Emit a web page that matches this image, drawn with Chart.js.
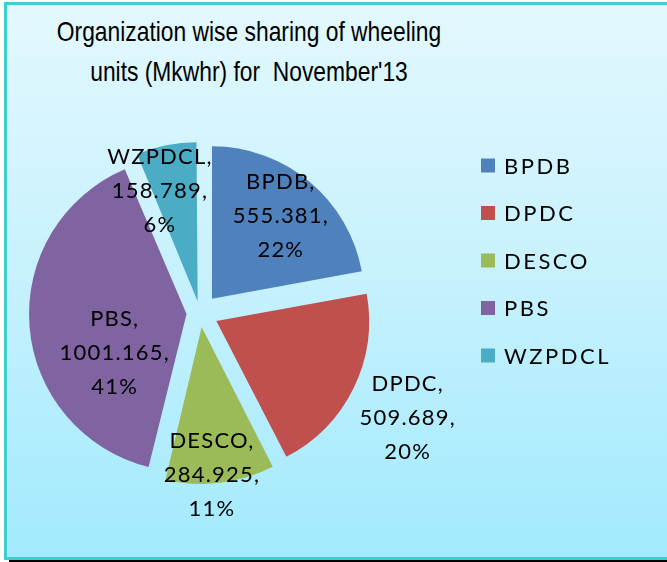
<!doctype html>
<html lang="en">
<head>
<meta charset="utf-8">
<title>Wheeling units November'13</title>
<script src="https://cdn.jsdelivr.net/npm/chart.js@4.4.1/dist/chart.umd.min.js"></script>
<style>
    body { margin: 0; }
    #wrap { position: relative; width: 667px; height: 562px; overflow: hidden; background: #fff; }
    #frame {
        position: absolute; left: 4px; top: 2px; width: 700px; height: 552px;
        border: 3px solid #40cdd0;
        background: linear-gradient(#e3f8fe, #c6f1fd 50%, #a2eafd);
        box-shadow: 5px 2px 0 #000;
    }
    #title {
        position: absolute; left: 0; top: 12px; width: 498px;
        text-align: center; font: 28px/40px "Liberation Sans", Arial, sans-serif;
        color: #000;
        transform: scaleX(0.815); transform-origin: 249px 0;
    }
    canvas { position: absolute; left: 0; top: 0; }
</style>
</head>
<body>
<div id="wrap">
    <div id="frame"></div>
    <div id="title">Organization wise sharing of wheeling<br>units (Mkwhr) for&nbsp; November'13</div>
    <canvas id="pie" width="667" height="562"></canvas>
</div>

<script>
    // data
    const orgs   = ["BPDB", "DPDC", "DESCO", "PBS", "WZPDCL"];
    const units  = [555.381, 509.689, 284.925, 1001.165, 158.789];
    const shares = ["22%", "20%", "11%", "41%", "6%"];

    const colours = ["#4f81bd", "#c0504d", "#9bbb59", "#8064a2", "#4bacc6"];

    // where each data label sits: fraction of radius, angle shift (deg) from slice middle
    const labelRad   = [0.83, 1.53, 1.07, 0.62, 0.845];
    const labelShift = [0, 0.5, 2.6, -20.6, -6.8];

    const total = units.reduce((a, b) => a + b, 0);
    const explode = 19;

    // chart.js v4 draws offset/4 and pushes narrow slices out further,
    // undo both so every slice moves the same distance
    function sliceOffset(ctx) {
        const circ = units[ctx.dataIndex] / total * 2 * Math.PI;
        const fix = 1 - Math.sin(Math.min(Math.PI, circ));
        return 4 * explode / (1 + fix);
    }

    const pieLabels = {
        id: "pieLabels",
        afterDatasetsDraw(chart) {
            const ctx = chart.ctx;
            const meta = chart.getDatasetMeta(0);
            ctx.save();
            ctx.fillStyle = "#000";
            ctx.textAlign = "center";
            ctx.textBaseline = "middle";
            ctx.font = "22px Lato";
            ctx.letterSpacing = "1.2px";
            meta.data.forEach((arc, i) => {
                const mid = (arc.startAngle + arc.endAngle) / 2 + labelShift[i] * Math.PI / 180;
                const r = arc.outerRadius * labelRad[i];
                const x = arc.x + Math.cos(mid) * r;
                const y = arc.y + Math.sin(mid) * r;
                const lines = [orgs[i] + ",", units[i].toFixed(3) + ",", shares[i]];
                lines.forEach((t, k) => ctx.fillText(t, x, y + (k - 1) * 34));
            });
            ctx.restore();
        },
        afterDraw(chart) {
            // legend on the right
            const ctx = chart.ctx;
            ctx.save();
            ctx.textAlign = "left";
            ctx.textBaseline = "middle";
            ctx.font = "22px Lato";
            ctx.letterSpacing = "2.5px";
            orgs.forEach((name, i) => {
                const cy = 165.5 + i * 47.5;
                ctx.fillStyle = colours[i];
                ctx.fillRect(481, cy - 7, 14, 14);
                ctx.fillStyle = "#000";
                ctx.fillText(name, 504, cy + 1);
            });
            ctx.restore();
        }
    };

    new Chart("pie", {
        type: "pie",
        data: {
            labels: orgs,
            datasets: [{
                data: units,
                backgroundColor: colours,
                borderWidth: 0,
                offset: sliceOffset
            }]
        },
        options: {
            responsive: false,
            animation: false,
            radius: 152,
            layout: { padding: { left: 20, right: 287, top: 84, bottom: 20 } },
            plugins: {
                legend: { display: false },
                title: { display: false },
                tooltip: { enabled: false }
            }
        },
        plugins: [pieLabels]
    });
</script>
</body>
</html>
